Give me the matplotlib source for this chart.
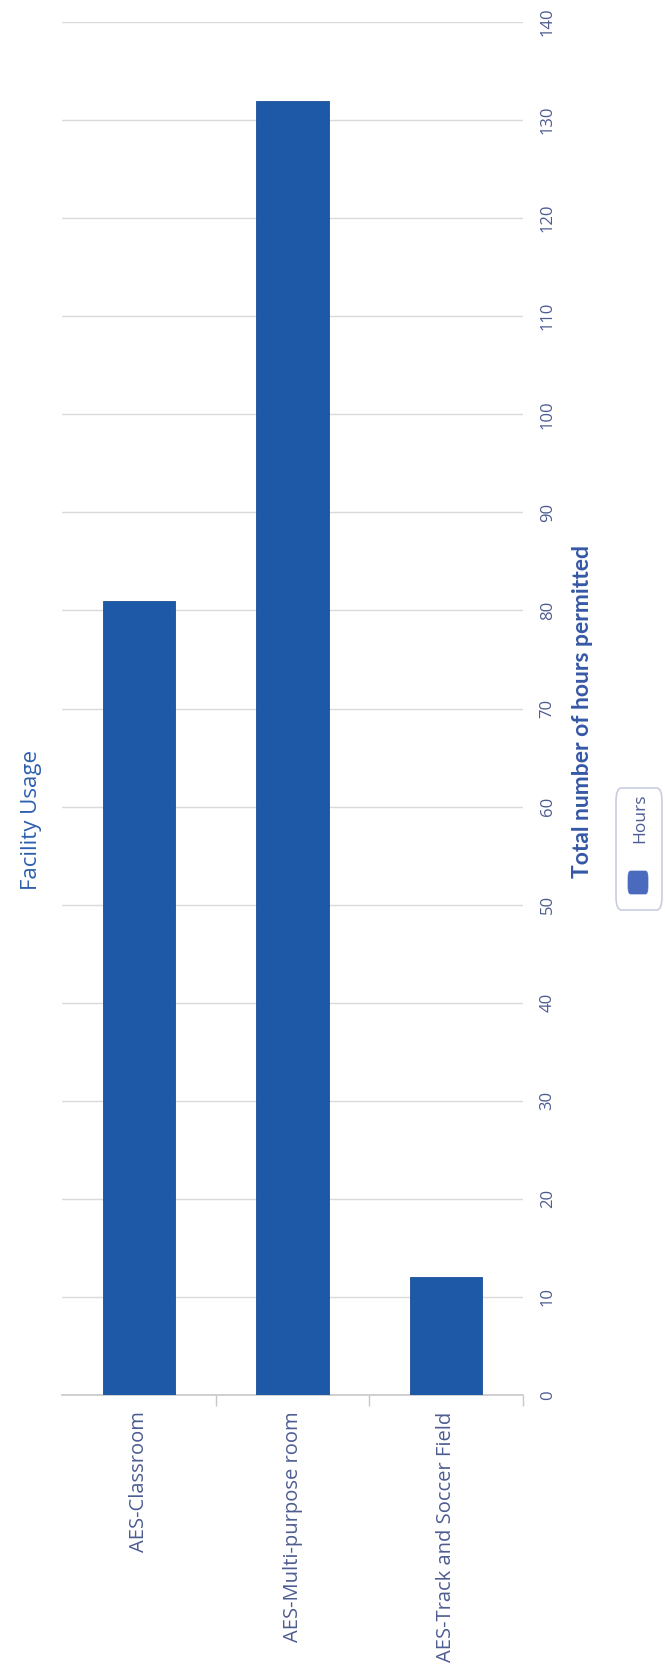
import matplotlib
matplotlib.use("Agg")
import matplotlib.pyplot as plt
from matplotlib.patches import FancyBboxPatch
from matplotlib.ticker import FixedLocator

categories = ["AES-Classroom", "AES-Multi-purpose room", "AES-Track and Soccer Field"]
hours = [81, 132, 12]
series_name = "Hours"
value_ticks = list(range(0, 141, 10))

bar_color = "#1d59a6"
label_color = "#4d5c91"
title_color = "#2d5fae"

plt.rcParams["font.family"] = ["Open Sans", "DejaVu Sans"]

fig = plt.figure(figsize=(6.65, 16.71), dpi=100)
ax = fig.add_axes([0.0932, 0.1652, 0.6933, 0.8216])

x = list(range(len(categories)))
ax.bar(x, hours, width=0.47, color=bar_color, edgecolor="#1a4f96",
       linewidth=0.6, zorder=3)

ax.set_xlim(-0.5, len(categories) - 0.5)
ax.set_ylim(0, 140)

# value axis lives on the right, labels turned sideways
ax.yaxis.tick_right()
ax.set_yticks(value_ticks)
ax.set_yticklabels([str(v) for v in value_ticks], rotation=90,
                   color=label_color, fontsize=12, va="center")
ax.tick_params(axis="y", length=0, pad=12)
ax.grid(axis="y", color="#dadada", linewidth=1.0, zorder=0)

ax.set_xticks(x)
ax.set_xticklabels(categories, rotation=90, color=label_color, fontsize=14.5,
                   va="top", ha="center")
ax.tick_params(axis="x", which="major", length=0, pad=12)
ax.xaxis.set_minor_locator(FixedLocator([0.5, 1.5, 2.5]))
ax.tick_params(axis="x", which="minor", length=8, width=1, color="#c8c8c8",
               direction="out")

for side in ["top", "right", "left"]:
    ax.spines[side].set_visible(False)
ax.spines["bottom"].set_color("#c8c8c8")
ax.spines["bottom"].set_linewidth(1.2)

ax.yaxis.set_label_position("right")
ax.set_ylabel("Total number of hours permitted", rotation=90,
              fontsize=16.5, fontweight="bold", color="#3558a6",
              family=["Lato", "DejaVu Sans"], va="center", ha="center")
ax.yaxis.set_label_coords(1.128, 0.498)

fig.text(0.048, 0.509, "Facility Usage", rotation=90, ha="center",
         va="center", fontsize=16, color=title_color)

# legend box, drawn sideways like the rest of the chart
fig.patches.append(FancyBboxPatch((616 / 665, 1 - 910 / 1671), 46 / 665, 122 / 1671,
                                  boxstyle="round,pad=0,rounding_size=0.008",
                                  transform=fig.transFigure, facecolor="white",
                                  edgecolor="#c9cde0", linewidth=1.2))
fig.patches.append(FancyBboxPatch((628 / 665, 1 - 894 / 1671), 20 / 665, 23 / 1671,
                                  boxstyle="round,pad=0,rounding_size=0.004",
                                  transform=fig.transFigure, facecolor="#4a6bbd",
                                  edgecolor="#4a6bbd", linewidth=0.5))
fig.text(640 / 665, 1 - 818 / 1671, series_name, rotation=90, ha="center",
         va="center", fontsize=12.5, color=label_color)

fig.savefig("out.png", dpi=100, facecolor="white")
